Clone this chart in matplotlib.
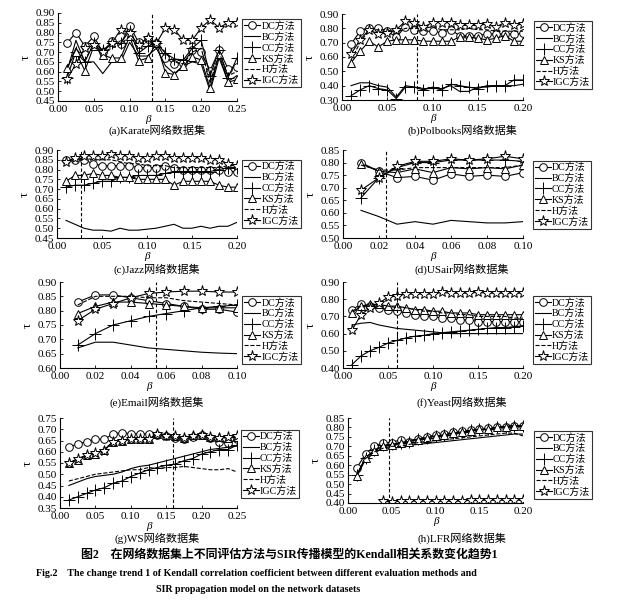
import numpy as np
import matplotlib
matplotlib.use("Agg")
import matplotlib.pyplot as plt

plt.rcParams['font.family'] = ['Liberation Serif', 'Noto Sans CJK SC']
plt.rcParams['axes.linewidth'] = 0.8
plt.rcParams['xtick.direction'] = 'in'
plt.rcParams['ytick.direction'] = 'in'

methods = ['DC方法', 'BC方法', 'CC方法', 'KS方法', 'H方法', 'IGC方法']

# (a) Karate
x_a = np.arange(1, 21) * 0.0125
a_dc = [0.745, 0.80, 0.73, 0.78, 0.70, 0.755, 0.74, 0.835, 0.75, 0.765, 0.745, 0.67, 0.64, 0.645, 0.71, 0.70, 0.605, 0.71, 0.615, 0.625]
a_bc = [0.60, 0.76, 0.65, 0.65, 0.59, 0.65, 0.65, 0.75, 0.68, 0.68, 0.72, 0.63, 0.59, 0.63, 0.65, 0.64, 0.50, 0.67, 0.55, 0.58]
a_cc = [0.57, 0.70, 0.65, 0.745, 0.71, 0.745, 0.745, 0.81, 0.695, 0.73, 0.745, 0.695, 0.665, 0.66, 0.72, 0.76, 0.58, 0.71, 0.57, 0.67]
a_ks = [0.62, 0.70, 0.605, 0.73, 0.685, 0.67, 0.67, 0.78, 0.655, 0.67, 0.745, 0.595, 0.585, 0.63, 0.675, 0.66, 0.515, 0.69, 0.545, 0.56]
a_h = [0.62, 0.72, 0.66, 0.74, 0.70, 0.72, 0.74, 0.78, 0.72, 0.73, 0.75, 0.70, 0.65, 0.64, 0.70, 0.72, 0.54, 0.70, 0.58, 0.60]
a_igc = [0.56, 0.64, 0.72, 0.735, 0.70, 0.745, 0.815, 0.80, 0.735, 0.77, 0.745, 0.825, 0.815, 0.76, 0.76, 0.825, 0.865, 0.825, 0.85, 0.85]

# (b) Polbooks
x_b = np.arange(1, 21) * 0.01
b_dc = [0.69, 0.78, 0.80, 0.80, 0.78, 0.74, 0.81, 0.79, 0.78, 0.78, 0.77, 0.79, 0.75, 0.75, 0.75, 0.76, 0.76, 0.76, 0.76, 0.765]
b_bc = [0.40, 0.42, 0.42, 0.40, 0.39, 0.32, 0.40, 0.39, 0.38, 0.38, 0.38, 0.40, 0.36, 0.36, 0.39, 0.39, 0.40, 0.40, 0.40, 0.41]
b_cc = [0.33, 0.37, 0.40, 0.38, 0.37, 0.31, 0.39, 0.39, 0.37, 0.39, 0.37, 0.41, 0.40, 0.39, 0.38, 0.40, 0.40, 0.40, 0.44, 0.44]
b_ks = [0.56, 0.64, 0.71, 0.67, 0.71, 0.72, 0.72, 0.72, 0.71, 0.71, 0.71, 0.71, 0.74, 0.74, 0.73, 0.72, 0.73, 0.75, 0.71, 0.71]
b_h = [0.58, 0.70, 0.79, 0.79, 0.79, 0.77, 0.80, 0.80, 0.80, 0.81, 0.79, 0.79, 0.79, 0.80, 0.79, 0.79, 0.78, 0.78, 0.78, 0.78]
b_igc = [0.62, 0.72, 0.79, 0.76, 0.77, 0.79, 0.85, 0.84, 0.81, 0.84, 0.84, 0.84, 0.82, 0.82, 0.82, 0.83, 0.81, 0.84, 0.82, 0.83]

# (c) Jazz
x_c = np.arange(1, 21) * 0.01
c_dc = [0.85, 0.85, 0.85, 0.83, 0.82, 0.82, 0.82, 0.82, 0.81, 0.81, 0.81, 0.82, 0.81, 0.80, 0.80, 0.80, 0.80, 0.80, 0.79, 0.79]
c_bc = [0.54, 0.52, 0.50, 0.49, 0.49, 0.485, 0.50, 0.49, 0.49, 0.495, 0.50, 0.51, 0.52, 0.50, 0.50, 0.51, 0.50, 0.51, 0.51, 0.53]
c_cc = [0.71, 0.72, 0.72, 0.73, 0.74, 0.74, 0.76, 0.76, 0.77, 0.77, 0.77, 0.78, 0.79, 0.79, 0.79, 0.79, 0.79, 0.80, 0.81, 0.81]
c_ks = [0.74, 0.77, 0.77, 0.78, 0.77, 0.77, 0.76, 0.76, 0.75, 0.75, 0.75, 0.75, 0.72, 0.74, 0.74, 0.74, 0.74, 0.72, 0.71, 0.71]
c_h = [0.84, 0.85, 0.86, 0.85, 0.85, 0.85, 0.84, 0.83, 0.83, 0.82, 0.82, 0.82, 0.81, 0.81, 0.81, 0.81, 0.81, 0.81, 0.82, 0.82]
c_igc = [0.84, 0.86, 0.87, 0.87, 0.87, 0.88, 0.87, 0.87, 0.86, 0.86, 0.87, 0.87, 0.86, 0.86, 0.86, 0.86, 0.85, 0.85, 0.83, 0.82]

# (d) USair
x_d = np.arange(1, 11) * 0.01
d_dc = [0.80, 0.765, 0.74, 0.745, 0.73, 0.755, 0.745, 0.75, 0.745, 0.76]
d_bc = [0.61, 0.585, 0.555, 0.565, 0.555, 0.57, 0.565, 0.56, 0.56, 0.565]
d_cc = [0.66, 0.74, 0.78, 0.80, 0.80, 0.81, 0.81, 0.81, 0.81, 0.805]
d_ks = [0.795, 0.765, 0.76, 0.775, 0.76, 0.78, 0.775, 0.78, 0.775, 0.79]
d_h = [0.79, 0.77, 0.77, 0.78, 0.78, 0.78, 0.78, 0.78, 0.78, 0.79]
d_igc = [0.69, 0.74, 0.785, 0.805, 0.805, 0.815, 0.81, 0.815, 0.825, 0.815]

# (e) Email
x_e = np.arange(1, 11) * 0.01
e_dc = [0.83, 0.855, 0.855, 0.845, 0.835, 0.825, 0.815, 0.805, 0.805, 0.795]
e_bc = [0.67, 0.69, 0.69, 0.68, 0.67, 0.665, 0.66, 0.655, 0.652, 0.65]
e_cc = [0.68, 0.72, 0.75, 0.765, 0.78, 0.79, 0.80, 0.81, 0.815, 0.82]
e_ks = [0.79, 0.815, 0.83, 0.83, 0.825, 0.82, 0.815, 0.81, 0.81, 0.81]
e_h = [0.82, 0.85, 0.85, 0.85, 0.845, 0.845, 0.835, 0.83, 0.825, 0.82]
e_igc = [0.765, 0.805, 0.825, 0.845, 0.86, 0.865, 0.868, 0.868, 0.865, 0.865]

# (f) Yeast
x_f = np.arange(1, 21) * 0.01
f_dc = [0.74, 0.77, 0.76, 0.75, 0.74, 0.73, 0.72, 0.71, 0.70, 0.70, 0.69, 0.69, 0.68, 0.68, 0.67, 0.67, 0.67, 0.67, 0.67, 0.67]
f_bc = [0.65, 0.66, 0.665, 0.65, 0.64, 0.63, 0.625, 0.62, 0.615, 0.61, 0.605, 0.60, 0.60, 0.60, 0.60, 0.60, 0.60, 0.60, 0.60, 0.60]
f_cc = [0.42, 0.47, 0.50, 0.52, 0.545, 0.56, 0.575, 0.585, 0.59, 0.60, 0.605, 0.61, 0.615, 0.62, 0.625, 0.63, 0.635, 0.635, 0.64, 0.645]
f_ks = [0.72, 0.76, 0.77, 0.77, 0.76, 0.76, 0.75, 0.74, 0.74, 0.73, 0.73, 0.72, 0.72, 0.72, 0.71, 0.71, 0.71, 0.71, 0.71, 0.71]
f_h = [0.73, 0.76, 0.76, 0.76, 0.76, 0.75, 0.75, 0.74, 0.73, 0.73, 0.72, 0.72, 0.71, 0.71, 0.70, 0.70, 0.70, 0.70, 0.69, 0.69]
f_igc = [0.62, 0.71, 0.75, 0.78, 0.81, 0.82, 0.83, 0.83, 0.83, 0.83, 0.84, 0.835, 0.835, 0.835, 0.84, 0.835, 0.835, 0.835, 0.835, 0.835]

# (g) WS
x_g = np.arange(1, 21) * 0.0125
g_dc = [0.62, 0.635, 0.645, 0.655, 0.655, 0.68, 0.685, 0.68, 0.68, 0.68, 0.675, 0.67, 0.66, 0.655, 0.665, 0.675, 0.66, 0.645, 0.64, 0.655]
g_bc = [0.45, 0.465, 0.48, 0.49, 0.495, 0.50, 0.51, 0.525, 0.535, 0.54, 0.55, 0.56, 0.57, 0.58, 0.59, 0.60, 0.61, 0.615, 0.62, 0.625]
g_cc = [0.385, 0.40, 0.415, 0.43, 0.44, 0.46, 0.47, 0.49, 0.505, 0.52, 0.53, 0.54, 0.545, 0.56, 0.57, 0.59, 0.60, 0.61, 0.61, 0.63]
g_ks = [0.55, 0.565, 0.585, 0.59, 0.61, 0.645, 0.65, 0.655, 0.655, 0.655, 0.68, 0.675, 0.67, 0.66, 0.675, 0.675, 0.665, 0.665, 0.66, 0.665]
g_h = [0.47, 0.48, 0.49, 0.50, 0.505, 0.51, 0.515, 0.52, 0.52, 0.53, 0.525, 0.53, 0.53, 0.535, 0.53, 0.525, 0.52, 0.52, 0.525, 0.51]
g_igc = [0.55, 0.57, 0.585, 0.595, 0.605, 0.645, 0.65, 0.655, 0.655, 0.655, 0.68, 0.67, 0.67, 0.66, 0.67, 0.675, 0.665, 0.66, 0.665, 0.67]

# (h) LFR
x_h = np.arange(1, 21) * 0.01
h_dc = [0.585, 0.66, 0.70, 0.72, 0.72, 0.735, 0.725, 0.74, 0.75, 0.76, 0.765, 0.775, 0.78, 0.785, 0.79, 0.795, 0.80, 0.805, 0.81, 0.81]
h_bc = [0.54, 0.63, 0.665, 0.69, 0.69, 0.695, 0.705, 0.71, 0.715, 0.72, 0.725, 0.73, 0.735, 0.74, 0.745, 0.75, 0.755, 0.76, 0.765, 0.765]
h_cc = [0.55, 0.64, 0.68, 0.705, 0.71, 0.72, 0.725, 0.74, 0.745, 0.755, 0.76, 0.77, 0.775, 0.785, 0.79, 0.79, 0.80, 0.805, 0.81, 0.81]
h_ks = [0.545, 0.64, 0.675, 0.70, 0.705, 0.72, 0.725, 0.735, 0.745, 0.755, 0.76, 0.77, 0.775, 0.78, 0.79, 0.79, 0.80, 0.805, 0.81, 0.81]
h_h = [0.55, 0.635, 0.67, 0.69, 0.70, 0.70, 0.71, 0.72, 0.725, 0.73, 0.735, 0.74, 0.745, 0.75, 0.755, 0.76, 0.765, 0.77, 0.77, 0.755]
x_h_igc = np.arange(4, 21) * 0.01
h_igc = [0.41, 0.405, 0.41, 0.41, 0.41, 0.41, 0.41, 0.41, 0.41, 0.41, 0.415, 0.415, 0.415, 0.415, 0.415, 0.415, 0.415]

panels = [
    dict(name='(a)Karate网络数据集', x=x_a, ys=[a_dc, a_bc, a_cc, a_ks, a_h, a_igc], xlim=(0, 0.25), xt=np.arange(0, 0.26, 0.05),
         ylim=(0.45, 0.90), yt=np.arange(0.45, 0.91, 0.05), vline=0.131, pos=[58, 13, 237, 101], leg=(1.03, 0.93), cap=(157, 130)),
    dict(name='(b)Polbooks网络数据集', x=x_b, ys=[b_dc, b_bc, b_cc, b_ks, b_h, b_igc], xlim=(0, 0.20), xt=np.arange(0, 0.21, 0.05),
         ylim=(0.30, 0.90), yt=np.arange(0.30, 0.91, 0.10), vline=0.083, pos=[342, 14, 523, 100], leg=(1.06, 0.92), cap=(462, 130)),
    dict(name='(c)Jazz网络数据集', x=x_c, ys=[c_dc, c_bc, c_cc, c_ks, c_h, c_igc], xlim=(0, 0.20), xt=np.arange(0, 0.21, 0.05),
         ylim=(0.45, 0.90), yt=np.arange(0.45, 0.91, 0.05), vline=0.027, pos=[57, 150, 237, 238], leg=(1.03, 0.89), cap=(157, 269)),
    dict(name='(d)USair网络数据集', x=x_d, ys=[d_dc, d_bc, d_cc, d_ks, d_h, d_igc], xlim=(0, 0.10), xt=np.arange(0, 0.101, 0.02),
         ylim=(0.50, 0.85), yt=np.arange(0.50, 0.851, 0.05), vline=0.024, pos=[343, 150, 523, 238], leg=(1.055, 0.88), cap=(462, 269)),
    dict(name='(e)Email网络数据集', x=x_e, ys=[e_dc, e_bc, e_cc, e_ks, e_h, e_igc], xlim=(0, 0.10), xt=np.arange(0, 0.101, 0.02),
         ylim=(0.60, 0.90), yt=np.arange(0.60, 0.91, 0.05), vline=0.054, pos=[60, 282, 237, 368], leg=(1.03, 0.84), cap=(157, 402)),
    dict(name='(f)Yeast网络数据集', x=x_f, ys=[f_dc, f_bc, f_cc, f_ks, f_h, f_igc], xlim=(0, 0.20), xt=np.arange(0, 0.21, 0.05),
         ylim=(0.40, 0.90), yt=np.arange(0.40, 0.91, 0.10), vline=0.06, pos=[343, 282, 523, 368], leg=(1.055, 0.84), cap=(462, 402)),
    dict(name='(g)WS网络数据集', x=x_g, ys=[g_dc, g_bc, g_cc, g_ks, g_h, g_igc], xlim=(0, 0.25), xt=np.arange(0, 0.26, 0.05),
         ylim=(0.35, 0.75), yt=np.arange(0.35, 0.751, 0.05), vline=0.16, pos=[60, 418, 237, 508], leg=(1.02, 0.87), cap=(157, 538)),
    dict(name='(h)LFR网络数据集', x=x_h, ys=[h_dc, h_bc, h_cc, h_ks, h_h, h_igc], xlim=(0, 0.20), xt=np.arange(0, 0.21, 0.05),
         ylim=(0.40, 0.85), yt=np.arange(0.40, 0.851, 0.05), vline=0.047, pos=[348, 418, 523, 503], leg=(1.06, 0.85), cap=(462, 538),
         x_igc=x_h_igc),
]

styles = [
    dict(marker='o', ms=5.5, mfc='white', ls='-'),
    dict(marker=None, ls='-'),
    dict(marker='+', ms=8, ls='-'),
    dict(marker='^', ms=5.5, mfc='white', ls='-'),
    dict(marker=None, ls='--'),
    dict(marker='*', ms=8, mfc='white', ls='-'),
]

W, H = 625, 602
fig = plt.figure(figsize=(W / 100, H / 100), dpi=100)

for p in panels:
    l, t, r, b = p['pos']
    ax = fig.add_axes([l / W, 1 - b / H, (r - l) / W, (b - t) / H])
    for i, (y, st) in enumerate(zip(p['ys'], styles)):
        xs = p['x']
        if i == 5 and 'x_igc' in p:
            xs = p['x_igc']
        ax.plot(xs, y, color='black', lw=0.8, label=methods[i], mec='black', mew=0.7, **st)
    ax.axvline(p['vline'], color='black', lw=0.8, ls=(0, (3, 2)))
    ax.set_xlim(*p['xlim'])
    ax.set_ylim(*p['ylim'])
    ax.set_xticks(p['xt'])
    ax.set_yticks(p['yt'])
    ax.set_xticklabels(['%.2f' % v for v in p['xt']])
    ax.set_yticklabels(['%.2f' % v for v in p['yt']])
    ax.tick_params(labelsize=8, length=2.5, width=0.6)
    ax.tick_params(axis='x', pad=3)
    ax.tick_params(axis='y', pad=2)
    ax.spines['top'].set_visible(False)
    ax.spines['right'].set_visible(False)
    ax.set_xlabel('β', fontsize=8, style='italic', labelpad=0.5)
    ax.set_ylabel('τ', fontsize=9, labelpad=3)
    leg = ax.legend(loc='upper left', bbox_to_anchor=p['leg'], fontsize=7.2, frameon=True, fancybox=False,
                    edgecolor='black', borderpad=0.2, labelspacing=0.12, handlelength=1.6, handletextpad=0.1,
                    borderaxespad=0)
    leg.get_frame().set_linewidth(0.8)
    fig.text(p['cap'][0] / W, 1 - p['cap'][1] / H, p['name'], ha='center', va='center', fontsize=8)

fig.text(0.463, 1 - 555 / H, '图2　在网络数据集上不同评估方法与SIR传播模型的Kendall相关系数变化趋势1',
         ha='center', va='center', fontsize=8.6, fontweight='bold')
fig.text(0.41, 1 - 573 / H, 'Fig.2　The change trend 1 of Kendall correlation coefficient between different evaluation methods and',
         ha='center', va='center', fontsize=7.2, fontweight='bold')
fig.text(0.413, 1 - 589 / H, 'SIR propagation model on the network datasets',
         ha='center', va='center', fontsize=7.2, fontweight='bold')

fig.savefig('out.png', dpi=100, facecolor='white')
